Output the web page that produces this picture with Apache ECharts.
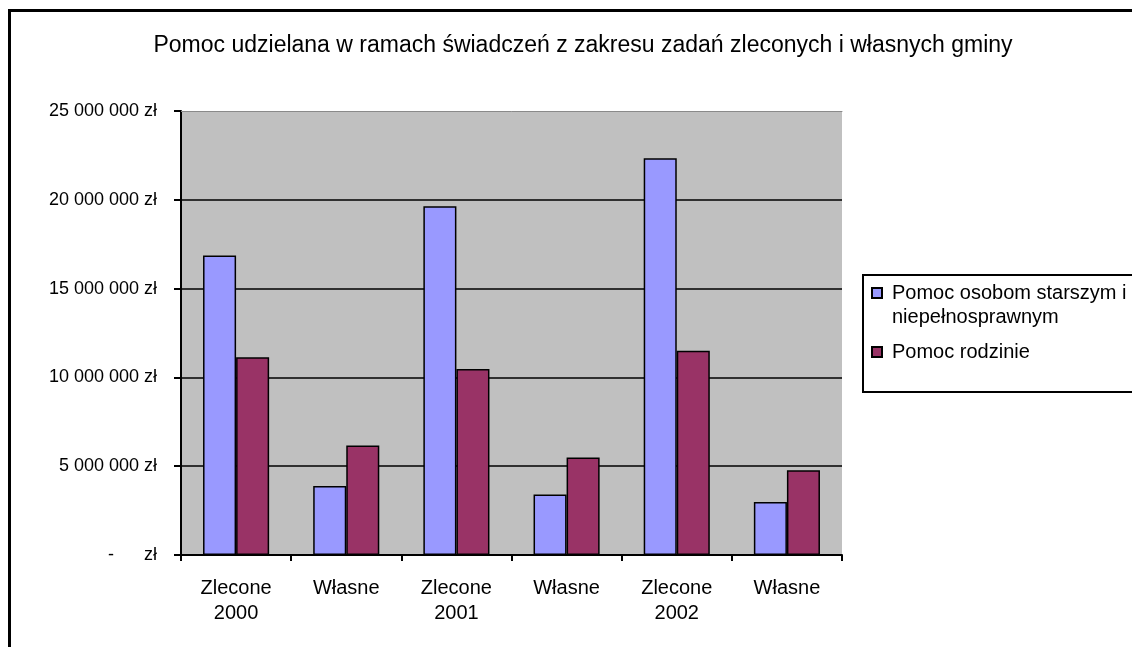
<!DOCTYPE html>
<html>
<head>
<meta charset="utf-8">
<script src="https://cdn.jsdelivr.net/npm/echarts@6/dist/echarts.min.js"></script>
<style>html,body{margin:0;padding:0;background:#fff}#c{width:1132px;height:647px}</style>
</head>
<body>
<div id="c"></div>
<script>
const titleText = 'Pomoc udzielana w ramach świadczeń z zakresu zadań zleconych i własnych gminy';
const categories = ['Zlecone\n2000', 'Własne', 'Zlecone\n2001', 'Własne', 'Zlecone\n2002', 'Własne'];
const seriesNames = ['Pomoc osobom starszym i niepełnosprawnym', 'Pomoc rodzinie'];
const elderly = [16870000, 3880000, 19640000, 3410000, 22340000, 2980000];
const family = [11140000, 6170000, 10480000, 5490000, 11500000, 4770000];
const yMin = 0, yMax = 25000000, yStep = 5000000;

const FONT = '"Liberation Sans", Arial, sans-serif';
function fmtY(v) {
  if (v === 0) return '{d|-}{z|zł}';
  return String(v).replace(/\B(?=(\d{3})+(?!\d))/g, ' ') + ' zł';
}
const chart = echarts.init(document.getElementById('c'));
chart.setOption({
  backgroundColor: '#fff',
  animation: false,
  textStyle: { fontFamily: FONT, color: '#000' },
  title: {
    text: titleText, left: 578, top: 29, textAlign: 'center',
    textStyle: { fontFamily: FONT, fontSize: 23, fontWeight: 'normal', color: '#000' }
  },
  graphic: [
    { type: 'rect', shape: { x: 9.5, y: 10.5, width: 2000, height: 2000 },
      style: { fill: 'none', stroke: '#000', lineWidth: 3 } },
    { type: 'rect', shape: { x: 863, y: 275, width: 400, height: 117 },
      style: { fill: '#fff', stroke: '#000', lineWidth: 2 } }
  ],
  legend: [
    { data: [seriesNames[0]], orient: 'vertical', left: 871, top: 257, padding: 0,
      itemWidth: 10, itemHeight: 10, icon: 'rect',
      formatter: n => ' \n' + n.replace('starszym i ', 'starszym i\n'),
      textStyle: { fontFamily: FONT, fontSize: 20, lineHeight: 24, color: '#000', padding: [0, 0, 0, 5] } },
    { data: [seriesNames[1]], orient: 'vertical', left: 871, top: 340, padding: 0,
      itemWidth: 10, itemHeight: 10, icon: 'rect',
      textStyle: { fontFamily: FONT, fontSize: 20, lineHeight: 24, color: '#000', padding: [0, 0, 0, 5] } }
  ],
  grid: { left: 181, right: 290, top: 111, bottom: 92, show: true, backgroundColor: '#c0c0c0', borderWidth: 0 },
  xAxis: [{
    type: 'category', data: categories,
    axisLine: { lineStyle: { color: '#000', width: 2 } },
    axisTick: { show: true, length: 6, lineStyle: { color: '#000', width: 2 } },
    axisLabel: { fontFamily: FONT, fontSize: 20, lineHeight: 25, color: '#000', margin: 21, interval: 0 }
  }, {
    type: 'category', data: categories, position: 'top',
    axisLine: { lineStyle: { color: '#8a8a8a', width: 1 } },
    axisTick: { show: false }, axisLabel: { show: false }
  }],
  yAxis: {
    type: 'value', min: yMin, max: yMax, interval: yStep,
    axisLine: { show: true, lineStyle: { color: '#000', width: 2 } },
    axisTick: { show: true, length: 7, lineStyle: { color: '#000', width: 2 } },
    splitLine: { show: true, showMaxLine: false, lineStyle: { color: '#000', width: 1.5 } },
    axisLabel: {
      fontFamily: FONT, fontSize: 18, color: '#000', margin: 24, formatter: fmtY,
      rich: { d: { width: 36, align: 'left', fontSize: 18, fontFamily: FONT }, z: { fontSize: 18, fontFamily: FONT } }
    }
  },
  series: [
    { name: seriesNames[0], type: 'bar', data: elderly, barGap: '0%', barCategoryGap: '40%',
      itemStyle: { color: '#9999ff', borderColor: '#000', borderWidth: 1.5 } },
    { name: seriesNames[1], type: 'bar', data: family, barGap: '0%', barCategoryGap: '40%',
      itemStyle: { color: '#993366', borderColor: '#000', borderWidth: 1.5 } }
  ]
});
</script>
</body>
</html>
